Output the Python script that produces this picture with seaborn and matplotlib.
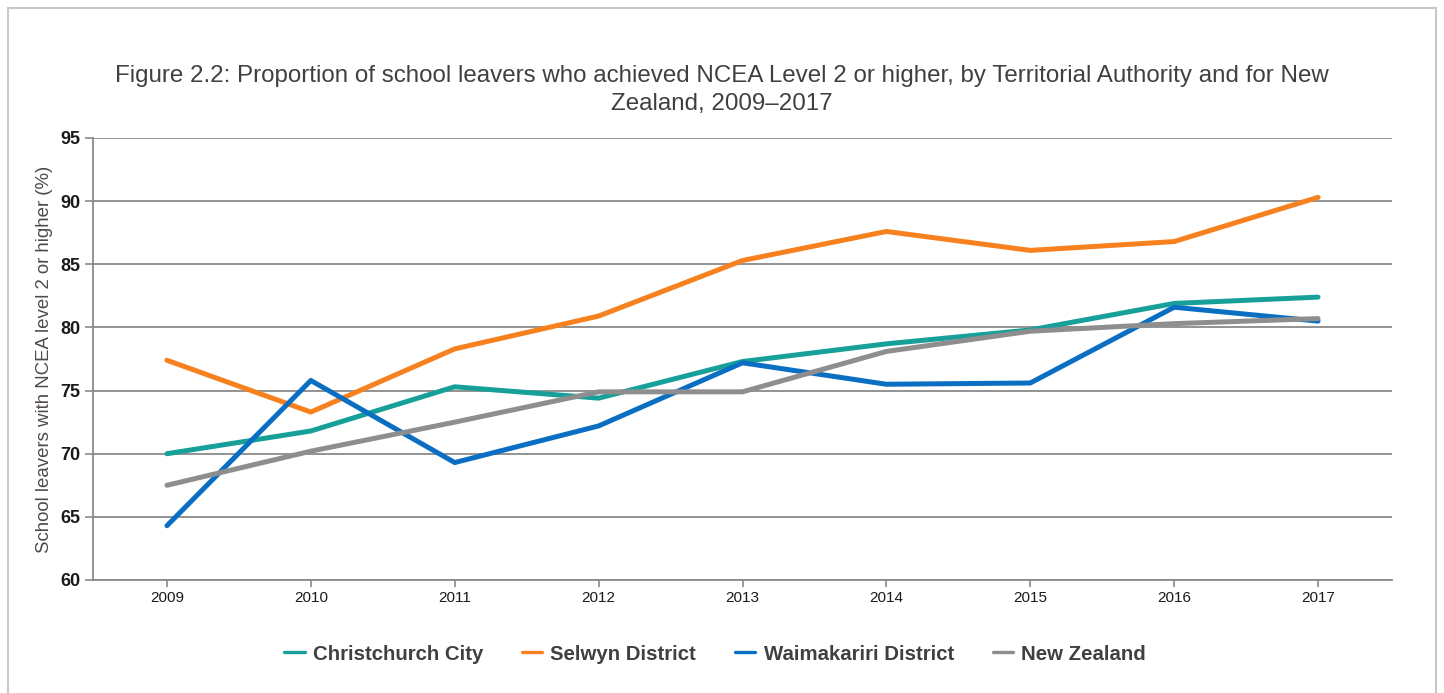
import matplotlib
matplotlib.use("Agg")
import matplotlib.pyplot as plt
from matplotlib.patches import Rectangle
import pandas as pd
import seaborn as sns

years = ["2009", "2010", "2011", "2012", "2013", "2014", "2015", "2016", "2017"]
christchurch = [70.0, 71.8, 75.3, 74.4, 77.3, 78.7, 79.8, 81.9, 82.4]
selwyn = [77.4, 73.3, 78.3, 80.9, 85.3, 87.6, 86.1, 86.8, 90.3]
waimakariri = [64.3, 75.8, 69.3, 72.2, 77.2, 75.5, 75.6, 81.6, 80.5]
new_zealand = [67.5, 70.2, 72.5, 74.9, 74.9, 78.1, 79.7, 80.3, 80.7]

series_names = ["Christchurch City", "Selwyn District", "Waimakariri District", "New Zealand"]
series_values = [christchurch, selwyn, waimakariri, new_zealand]
palette = ["#17A09A", "#F7801F", "#0A6FC2", "#8E8E8E"]

rows = []
for name, vals in zip(series_names, series_values):
    for i, (yr, v) in enumerate(zip(years, vals)):
        rows.append({"pos": i, "year": yr, "value": v, "series": name})
df = pd.DataFrame(rows)

sns.set_style("white")
plt.rcParams["font.family"] = ["Liberation Sans", "DejaVu Sans"]

fig = plt.figure(figsize=(14.44, 6.93), dpi=100)
ax = fig.add_axes([93 / 1444, 1 - 580 / 693, (1392 - 93) / 1444, (580 - 138) / 693])

# light frame around the figure
fig.patches.append(Rectangle((8 / 1444, -0.02), (1436 - 8) / 1444, 1 - 8 / 693 + 0.02,
                             transform=fig.transFigure, fill=False,
                             edgecolor="#C8C8C8", linewidth=1.5))

sns.lineplot(data=df, x="pos", y="value", hue="series", hue_order=series_names,
             palette=palette, linewidth=3.6, ax=ax, legend=True, sort=False)

ax.set_ylim(60, 95)
ax.set_yticks(range(60, 96, 5))
ax.set_xlim(-0.514, 8.514)
ax.set_xticks(range(len(years)))
ax.set_xticklabels(years)
ax.grid(axis="y", color="#8A8A8A", linewidth=1.3)
ax.set_axisbelow(True)
for s in ["top", "right"]:
    ax.spines[s].set_visible(False)
for s in ["left", "bottom"]:
    ax.spines[s].set_color("#8A8A8A")
    ax.spines[s].set_linewidth(1.3)

ax.tick_params(axis="y", which="both", left=True, length=6, width=1.2, color="#8A8A8A",
               labelsize=13, labelcolor="#1A1A1A", pad=3)
ax.tick_params(axis="x", which="both", bottom=True, length=5, width=1.2, color="#8A8A8A",
               labelsize=11, labelcolor="#1A1A1A", pad=3)
for lbl in ax.get_yticklabels():
    lbl.set_fontweight("bold")

ax.set_xlabel("")
ax.set_ylabel("School leavers with NCEA level 2 or higher (%)", fontsize=13.4,
              color="#4F4A48", labelpad=5)

fig.text(0.5, 1 - 76 / 693, "Figure 2.2: Proportion of school leavers who achieved NCEA Level 2 or higher, by Territorial Authority and for New",
         ha="center", va="center", fontsize=17.4, color="#404040")
fig.text(0.5, 1 - 104 / 693, "Zealand, 2009\u20132017",
         ha="center", va="center", fontsize=17.4, color="#404040")

ax.get_legend().remove()
handles, labels = ax.get_legend_handles_labels()
leg = fig.legend(handles, labels, loc="center", bbox_to_anchor=(715 / 1444, 1 - 654 / 693),
                 ncol=4, frameon=False, handlelength=1.0, handletextpad=0.4,
                 columnspacing=1.9, prop={"size": 14.7, "weight": "bold"})
for t in leg.get_texts():
    t.set_color("#404040")
for h in leg.get_lines():
    h.set_linewidth(2.4)

fig.savefig("out.png", dpi=100)
